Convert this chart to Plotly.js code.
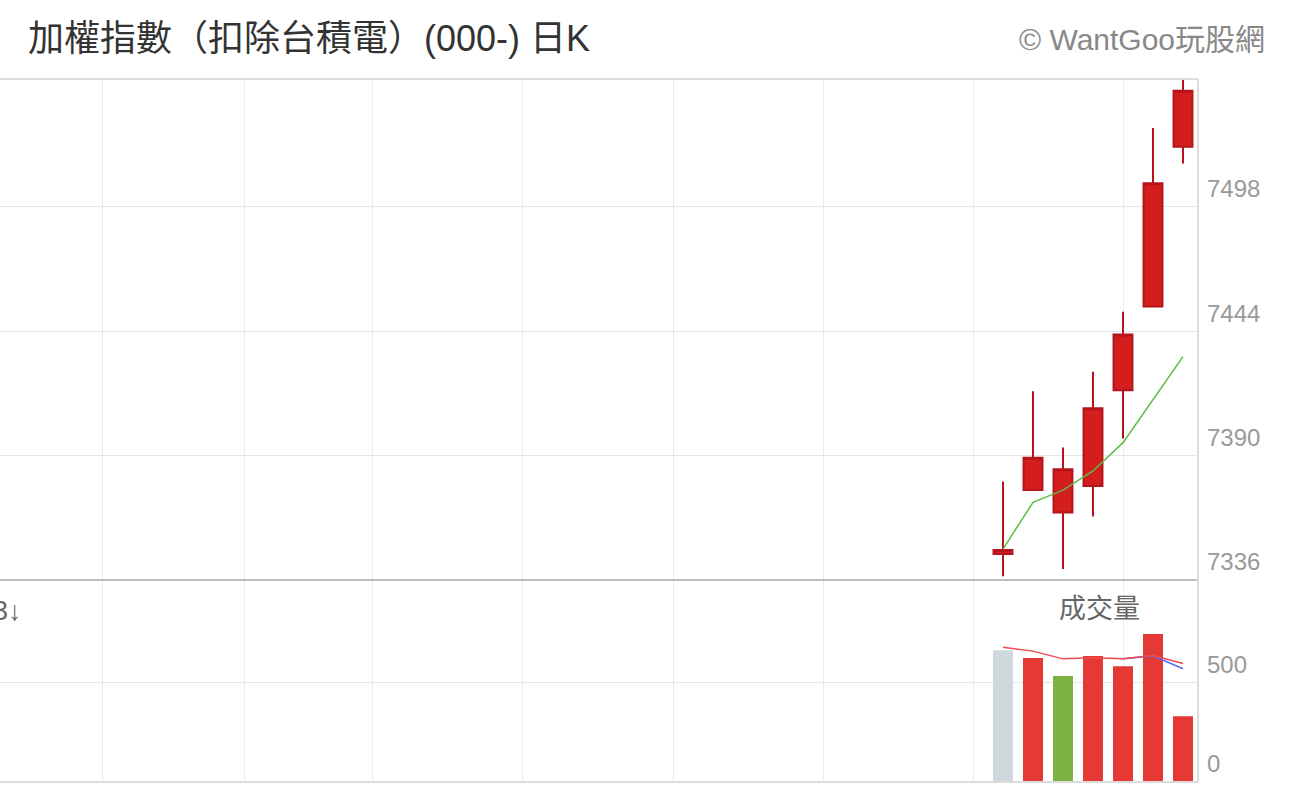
<!DOCTYPE html>
<html>
<head>
<meta charset="utf-8">
<script src="https://cdn.plot.ly/plotly-3.0.1.min.js"></script>
<style>
html,body{margin:0;padding:0;background:#fff;}
#chart{width:1290px;height:788px;}
</style>
</head>
<body>
<div id="chart"></div>
<script>
// ---- data ----
const openP  = [7347.3, 7375.0, 7365.3, 7376.8, 7418.3, 7454.7, 7524.0];
const highP  = [7378.7, 7417.9, 7393.5, 7426.4, 7452.4, 7532.1, 7553.0];
const lowP   = [7337.6, 7375.0, 7340.8, 7363.6, 7397.4, 7454.7, 7516.7];
const closeP = [7349.0, 7389.1, 7384.1, 7410.5, 7442.5, 7508.2, 7548.3];
const priceMA = [7349.4, 7369.7, 7375.0, 7383.3, 7395.6, 7414.4, 7432.9];
const volume = [665, 625, 534, 635, 584, 746, 332];
const volMA1 = [679, 660, 621, 626, 621, 638, 598];
const volMA2 = [null, null, null, null, 621, 636, 571];
const priceTicks = [7336, 7390, 7444, 7498];
const volTicks = [0, 500];
const titleText = '加權指數（扣除台積電）(000-) 日K';
const brandText = '© WantGoo玩股網';
const volLabel = '成交量';
const sideLabel = '3↓';

// ---- build ----
const idx = openP.map((_, i) => i);
const volColors = volume.map((_, i) => {
  if (i === 0) return '#cfd8dc';
  return closeP[i] >= closeP[i - 1] ? '#e53935' : '#7cb342';
});

const FONT = 'Liberation Sans, Arial, "Noto Sans CJK TC", sans-serif';
const gridX = [-30, -25.267, -21, -16, -11, -6, -1, 4];
const xRange = [-33.433, 6.5];

const traces = [
  {
    type: 'candlestick', x: idx, open: openP, high: highP, low: lowP, close: closeP,
    xaxis: 'x', yaxis: 'y',
    increasing: {line: {color: '#b3151a', width: 2}, fillcolor: '#d41e1e'},
    decreasing: {line: {color: '#4e9a2a', width: 2}, fillcolor: '#7cb342'},
    whiskerwidth: 0, hoverinfo: 'skip', showlegend: false
  },
  {
    type: 'scatter', mode: 'lines', x: idx, y: priceMA, xaxis: 'x', yaxis: 'y',
    line: {color: '#5dbb46', width: 1.5}, hoverinfo: 'skip', showlegend: false
  },
  {
    type: 'bar', x: idx, y: volume, xaxis: 'x2', yaxis: 'y2', width: 0.667,
    marker: {color: volColors, line: {width: 0}}, hoverinfo: 'skip', showlegend: false
  },
  {
    type: 'scatter', mode: 'lines', x: idx, y: volMA2, xaxis: 'x2', yaxis: 'y2',
    line: {color: '#4f6bff', width: 1.5}, hoverinfo: 'skip', showlegend: false
  },
  {
    type: 'scatter', mode: 'lines', x: idx, y: volMA1, xaxis: 'x2', yaxis: 'y2',
    line: {color: '#f04b4b', width: 1.5}, hoverinfo: 'skip', showlegend: false
  }
];

const volDomainTop = 202 / 703;
const tickFont = {family: FONT, size: 24, color: '#999999'};

const layout = {
  width: 1290, height: 788,
  margin: {l: 0, r: 92, t: 79, b: 6, pad: 0},
  paper_bgcolor: '#ffffff', plot_bgcolor: '#ffffff',
  showlegend: false,
  boxgap: 0.1, boxgroupgap: 0.3,
  title: {
    text: titleText, x: 28 / 1290, xanchor: 'left', xref: 'container',
    y: 1 - 38 / 788, yanchor: 'middle', yref: 'container',
    font: {family: FONT, size: 36, color: '#333333'}
  },
  xaxis: {
    domain: [0, 1], anchor: 'y', range: xRange, rangeslider: {visible: false},
    tickmode: 'array', tickvals: gridX, showticklabels: false, ticks: '',
    showgrid: true, gridcolor: '#ebebeb', gridwidth: 1, zeroline: false, showline: false,
    fixedrange: true
  },
  xaxis2: {
    domain: [0, 1], anchor: 'y2', matches: 'x', range: xRange,
    tickmode: 'array', tickvals: gridX, showticklabels: false, ticks: '',
    showgrid: true, gridcolor: '#ebebeb', gridwidth: 1, zeroline: false, showline: false,
    fixedrange: true
  },
  yaxis: {
    domain: [volDomainTop, 1], anchor: 'x', side: 'right', range: [7336, 7553.4],
    tickmode: 'array', tickvals: priceTicks, ticktext: priceTicks.map(String),
    ticks: '', tickfont: tickFont, ticklabelshift: -18, ticklabelstandoff: 8,
    showgrid: true, gridcolor: '#e6e6e6', gridwidth: 1, zeroline: false, showline: false,
    fixedrange: true
  },
  yaxis2: {
    domain: [0, volDomainTop], anchor: 'x2', side: 'right', range: [0, 1018.7],
    tickmode: 'array', tickvals: volTicks, ticktext: volTicks.map(String),
    ticks: '', tickfont: tickFont, ticklabelshift: -18, ticklabelstandoff: 8,
    showgrid: true, gridcolor: '#e6e6e6', gridwidth: 1, zeroline: false, showline: false,
    fixedrange: true
  },
  shapes: [
    {type: 'line', xref: 'paper', yref: 'paper', x0: 0, x1: 1, y0: 1, y1: 1,
     line: {color: '#dcdcdc', width: 2}},
    {type: 'line', xref: 'paper', yref: 'paper', x0: 0, x1: 1, y0: volDomainTop, y1: volDomainTop,
     line: {color: '#bdbdbd', width: 2}},
    {type: 'line', xref: 'paper', yref: 'paper', x0: 0, x1: 1, y0: 0, y1: 0,
     line: {color: '#dcdcdc', width: 2}},
    {type: 'line', xref: 'paper', yref: 'paper', x0: 1, x1: 1, y0: 0, y1: 1,
     line: {color: '#dcdcdc', width: 2}}
  ],
  annotations: [
    {text: brandText, xref: 'paper', yref: 'paper', x: 1267 / 1198, y: (782 - 40) / 703,
     xanchor: 'right', yanchor: 'middle', showarrow: false,
     font: {family: FONT, size: 30, color: '#888888'}},
    {text: volLabel, xref: 'paper', yref: 'paper', x: 1099.5 / 1198, y: (782 - 609) / 703,
     xanchor: 'center', yanchor: 'middle', showarrow: false,
     font: {family: FONT, size: 27, color: '#666666'}},
    {text: sideLabel, xref: 'paper', yref: 'paper', x: 24 / 1198, y: (782 - 611) / 703,
     xanchor: 'right', yanchor: 'middle', showarrow: false,
     font: {family: FONT, size: 27, color: '#666666'}}
  ]
};

Plotly.newPlot('chart', traces, layout, {staticPlot: true, displayModeBar: false});
</script>
</body>
</html>
